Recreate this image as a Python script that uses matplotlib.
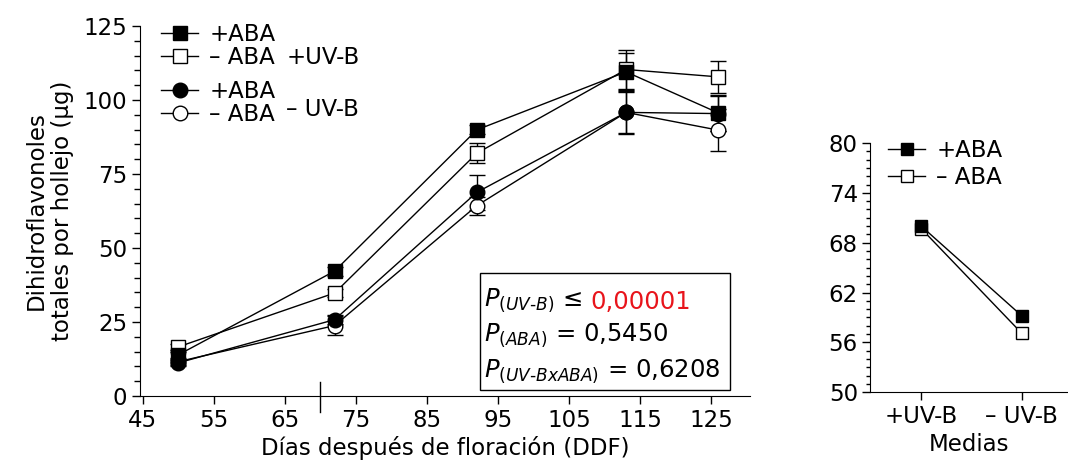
import matplotlib
matplotlib.use("Agg")
import matplotlib.pyplot as plt
from matplotlib.lines import Line2D
from matplotlib.patches import Rectangle

plt.rcParams['font.family'] = ['DejaVu Sans']
plt.rcParams['mathtext.fontset'] = 'dejavusans'

# datos
dias = [50, 72, 92, 113, 126]
uvb_aba = [13.9, 42.2, 89.9, 109.5, 95.6]
uvb_aba_err = [1.0, 1.5, 1.5, 6.4, 6.0]
uvb_noaba = [16.6, 34.8, 82.0, 110.3, 107.8]
uvb_noaba_err = [1.0, 1.5, 3.4, 6.5, 5.5]
nouvb_aba = [11.2, 25.8, 68.8, 95.8, 95.4]
nouvb_aba_err = [1.0, 1.5, 6.0, 7.0, 6.0]
nouvb_noaba = [11.6, 23.8, 64.3, 95.8, 89.8]
nouvb_noaba_err = [1.0, 3.2, 3.0, 7.4, 7.0]

medias_cat = ['+UV-B', '\u2013 UV-B']
medias_aba = [70.0, 59.2]
medias_noaba = [69.7, 57.1]

p_uvb = '0,00001'
p_aba = '0,5450'
p_int = '0,6208'

fs = 16.5
fig = plt.figure(figsize=(10.68, 4.72), dpi=100)
ax = fig.add_axes([0.131, 0.161, 0.571, 0.784])
ax2 = fig.add_axes([0.815, 0.169, 0.185, 0.528])

ms = 10.5
common = dict(color='black', lw=1.0, capsize=5.5, elinewidth=1.0, capthick=1.0, markersize=ms, markeredgewidth=1.0)
ax.errorbar(dias, uvb_noaba, yerr=uvb_noaba_err, marker='s', mfc='white', mec='black', **common)
ax.errorbar(dias, nouvb_noaba, yerr=nouvb_noaba_err, marker='o', mfc='white', mec='black', **common)
ax.errorbar(dias, uvb_aba, yerr=uvb_aba_err, marker='s', mfc='black', mec='black', **common)
ax.errorbar(dias, nouvb_aba, yerr=nouvb_aba_err, marker='o', mfc='black', mec='black', **common)

ax.set_xlim(44.6, 130.4)
ax.set_ylim(0, 125)
ax.set_xticks(range(45, 126, 10))
ax.set_yticks(range(0, 126, 25))
ax.set_yticks(range(0, 126, 5), minor=True)
ax.spines['top'].set_visible(False)
ax.spines['right'].set_visible(False)
ax.tick_params(labelsize=fs, length=6, width=1, direction='out', pad=3)
ax.tick_params(which='minor', length=4, width=1)
ax.set_xlabel('Días después de floración (DDF)', fontsize=fs, labelpad=3)
ax.set_ylabel('Dihidroflavonoles\ntotales por hollejo (µg)', fontsize=fs, labelpad=7)
ax.axvline(70, ymin=-0.043, ymax=0.038, color='black', lw=1.0, clip_on=False)

# leyenda
h1 = [Line2D([], [], color='black', lw=1, marker='s', mfc='black', mec='black', ms=ms),
      Line2D([], [], color='black', lw=1, marker='s', mfc='white', mec='black', ms=ms)]
h2 = [Line2D([], [], color='black', lw=1, marker='o', mfc='black', mec='black', ms=ms),
      Line2D([], [], color='black', lw=1, marker='o', mfc='white', mec='black', ms=ms)]
leg_kw = dict(frameon=False, fontsize=fs, labelspacing=0.02, handlelength=1.6,
              handletextpad=0.5, borderpad=0, borderaxespad=0, loc='upper left')
leg1 = ax.legend(h1, ['+ABA', '\u2013 ABA'], bbox_to_anchor=(0.035, 1.008), **leg_kw)
ax.add_artist(leg1)
ax.legend(h2, ['+ABA', '\u2013 ABA'], bbox_to_anchor=(0.035, 0.855), **leg_kw)
ax.text(0.24, 0.914, '+UV-B', transform=ax.transAxes, fontsize=fs, va='center')
ax.text(0.24, 0.773, '\u2013 UV-B', transform=ax.transAxes, fontsize=fs, va='center')

# caja de P
pfs = 17.5
t1 = ax.text(0.565, 0.245, r'$P_{(UV\text{-}B)}$ ≤', transform=ax.transAxes, fontsize=pfs, va='baseline')
ax.annotate(p_uvb, xy=(1, 0), xycoords=t1, xytext=(6, 0), textcoords='offset points',
            va='bottom', fontsize=pfs, color='#e8141b')
ax.text(0.565, 0.148, r'$P_{(ABA)}$ = ' + p_aba, transform=ax.transAxes, fontsize=pfs, va='baseline')
ax.text(0.565, 0.052, r'$P_{(UV\text{-}BxABA)}$ = ' + p_int, transform=ax.transAxes, fontsize=pfs, va='baseline')
ax.add_patch(Rectangle((0.557, 0.016), 0.41, 0.316, transform=ax.transAxes, fill=False, lw=1.0, clip_on=False))

# panel de medias
xm = list(range(len(medias_cat)))
ms2 = 8.5
ax2.plot(xm, medias_noaba, color='black', lw=1, marker='s', mfc='white', mec='black', ms=ms2)
ax2.plot(xm, medias_aba, color='black', lw=1, marker='s', mfc='black', mec='black', ms=ms2)
ax2.set_xlim(-0.505, 1.46)
ax2.set_ylim(50, 80)
ax2.set_yticks(range(50, 81, 6))
ax2.set_yticks(range(50, 81, 1), minor=True)
ax2.set_xticks(xm)
ax2.set_xticklabels(medias_cat)
ax2.spines['top'].set_visible(False)
ax2.spines['right'].set_visible(False)
ax2.tick_params(labelsize=fs, length=6, width=1, direction='out', pad=3)
ax2.tick_params(which='minor', length=3, width=1)
ax2.set_xlabel('Medias', fontsize=fs, labelpad=4)
h3 = [Line2D([], [], color='black', lw=1, marker='s', mfc='black', mec='black', ms=ms2),
      Line2D([], [], color='black', lw=1, marker='s', mfc='white', mec='black', ms=ms2)]
ax2.legend(h3, ['+ABA', '\u2013 ABA'], frameon=False, fontsize=fs, labelspacing=0.15,
           handlelength=1.6, handletextpad=0.5, borderpad=0, borderaxespad=0,
           loc='upper left', bbox_to_anchor=(0.09, 1.015))

fig.savefig('out.png', dpi=100)
